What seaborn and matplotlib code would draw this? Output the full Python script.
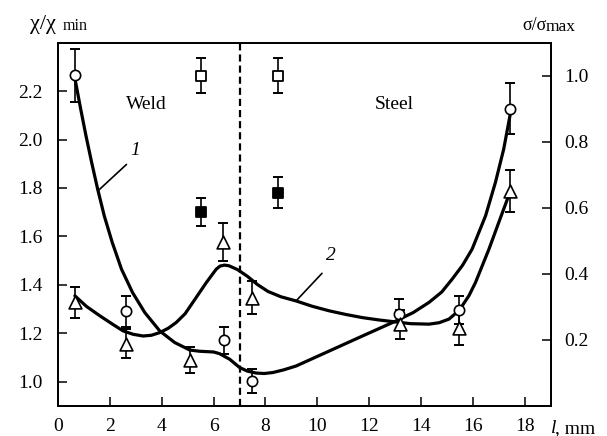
import matplotlib
matplotlib.use('Agg')
import matplotlib.pyplot as plt
import seaborn as sns

# ---------------- data ----------------
# open circles (left axis, chi/chi_min)
circ_x = [0.65, 2.64, 6.40, 7.50, 13.15, 15.45, 17.45]
circ_y = [2.265, 1.290, 1.170, 1.002, 1.278, 1.295, 2.127]
circ_err = [0.11, 0.065, 0.055, 0.05, 0.065, 0.058, 0.105]

# open triangles (left axis)
tri_x = [0.65, 2.64, 5.10, 6.38, 7.50, 13.20, 15.45, 17.45]
tri_y = [1.327, 1.157, 1.089, 1.577, 1.347, 1.237, 1.222, 1.789]
tri_err = [0.065, 0.06, 0.055, 0.08, 0.07, 0.06, 0.072, 0.087]

# squares (right axis, sigma/sigma_max)
sq_open_x = [5.5, 8.5]
sq_open_y = [1.0, 1.0]
sq_open_err = [0.053, 0.053]
sq_fill_x = [5.5, 8.5]
sq_fill_y = [0.587, 0.646]
sq_fill_err = [0.042, 0.046]

# traced smooth curve 1
c1_x = [0.654, 0.872, 1.077, 1.295, 1.526, 1.782, 2.090, 2.449, 2.872, 3.346,
        3.923, 4.50, 5.08, 5.46, 6.00, 6.23, 6.62, 7.00, 7.30, 7.64, 7.95, 8.28,
        8.70, 9.18, 9.80, 10.46, 11.74, 13.03, 13.70, 14.31, 14.80, 15.20, 15.60,
        15.97, 16.49, 16.87, 17.19, 17.45]
c1_y = [2.251, 2.127, 2.016, 1.906, 1.796, 1.685, 1.575, 1.464, 1.368, 1.285,
        1.209, 1.161, 1.130, 1.125, 1.122, 1.115, 1.092, 1.058, 1.043, 1.035,
        1.033, 1.037, 1.048, 1.064, 1.094, 1.126, 1.188, 1.250, 1.285, 1.327,
        1.370, 1.423, 1.480, 1.547, 1.685, 1.823, 1.961, 2.110]

# traced smooth curve 2
c2_x = [0.65, 1.10, 1.62, 2.10, 2.51, 2.90, 3.28, 3.60, 3.92, 4.25, 4.56, 4.90,
        5.20, 5.72, 6.10, 6.25, 6.42, 6.60, 6.93, 7.30, 7.70, 8.10, 8.60, 9.18,
        9.80, 10.46, 11.10, 11.74, 12.40, 13.03, 13.60, 14.31, 14.70, 15.08,
        15.35, 15.59, 15.85, 16.10, 16.62, 17.00, 17.38, 17.45]
c2_y = [1.354, 1.310, 1.271, 1.237, 1.209, 1.195, 1.188, 1.191, 1.202, 1.220,
        1.244, 1.280, 1.327, 1.409, 1.464, 1.477, 1.481, 1.478, 1.462, 1.435,
        1.400, 1.372, 1.350, 1.333, 1.311, 1.292, 1.277, 1.264, 1.254, 1.246,
        1.239, 1.237, 1.243, 1.258, 1.283, 1.313, 1.355, 1.409, 1.547, 1.658,
        1.768, 1.785]

x_ticks = [0, 2, 4, 6, 8, 10, 12, 14, 16, 18]
left_ticks = [1.0, 1.2, 1.4, 1.6, 1.8, 2.0, 2.2]
right_ticks = [0.2, 0.4, 0.6, 0.8, 1.0]

# ---------------- style ----------------
sns.set_style('ticks')
plt.rcParams['font.family'] = 'serif'
plt.rcParams['font.serif'] = ['Liberation Serif', 'DejaVu Serif']
plt.rcParams['axes.linewidth'] = 1.3
plt.rcParams['axes.edgecolor'] = 'black'

fig = plt.figure(figsize=(6.07, 4.36), dpi=100, facecolor='white')
ax = fig.add_axes([0.0956, 0.0695, 0.8116, 0.8325])
ax2 = ax.twinx()

K = 'black'
# curves
for cx, cy in ((c1_x, c1_y), (c2_x, c2_y)):
    sns.lineplot(x=cx, y=cy, ax=ax, sort=False, estimator=None, color=K, lw=2.3,
                 zorder=3, solid_joinstyle='round', solid_capstyle='round')

# error bars
eb = dict(fmt='none', ecolor=K, elinewidth=1.2, capsize=3.5, capthick=1.4, zorder=4)
ax.errorbar(circ_x, circ_y, yerr=circ_err, **eb)
ax.errorbar(tri_x, tri_y, yerr=tri_err, **eb)
ax2.errorbar(sq_open_x, sq_open_y, yerr=sq_open_err, **eb)
ax2.errorbar(sq_fill_x, sq_fill_y, yerr=sq_fill_err, **eb)

# markers
sns.scatterplot(x=circ_x, y=circ_y, ax=ax, marker='o', s=55, color='white',
                edgecolor=K, linewidth=1.2, zorder=6)
sns.scatterplot(x=tri_x, y=tri_y, ax=ax, marker='^', s=85, color='white',
                edgecolor=K, linewidth=1.2, zorder=6)
sns.scatterplot(x=sq_open_x, y=sq_open_y, ax=ax2, marker='s', s=62, color='white',
                edgecolor=K, linewidth=1.3, zorder=6)
sns.scatterplot(x=sq_fill_x, y=sq_fill_y, ax=ax2, marker='s', s=62, color=K,
                edgecolor=K, linewidth=1.3, zorder=6)

# boundary line
ax.axvline(7.0, color=K, lw=1.6, ls=(0, (3.2, 1.8)), zorder=2)

# limits and ticks
ax.set_xlim(0, 19)
ax.set_ylim(0.9, 2.4)
ax2.set_ylim(0.0, 1.1)
ax.set_xticks(x_ticks)
ax.set_xticklabels([str(t) for t in x_ticks])
ax.set_yticks(left_ticks)
ax.set_yticklabels([f'{t:.1f}' for t in left_ticks])
ax2.set_yticks(right_ticks)
ax2.set_yticklabels([f'{t:.1f}' for t in right_ticks])
ax.set_xlabel('')
ax.set_ylabel('')
ax2.set_ylabel('')

tp = dict(direction='in', length=6.5, width=1.1, colors=K, labelsize=14)
ax.tick_params(axis='x', top=False, pad=9, **tp)
ax.tick_params(axis='y', right=False, pad=11, **tp)
ax2.tick_params(axis='y', left=False, pad=10, **tp)
for a in (ax, ax2):
    for s in a.spines.values():
        s.set_visible(True)
        s.set_color(K)
        s.set_linewidth(1.3)

# annotations
ax.text(3.41, 2.143, 'Weld', fontsize=14, ha='center', va='center', color=K)
ax.text(12.96, 2.143, 'Steel', fontsize=14, ha='center', va='center', color=K)
ax.text(2.99, 1.954, '1', fontsize=14, style='italic', ha='center', va='center', color=K)
ax.text(10.53, 1.520, '2', fontsize=14, style='italic', ha='center', va='center', color=K)
ax.plot([1.55, 2.64], [1.789, 1.897], color=K, lw=1.2, zorder=3)
ax.plot([9.18, 10.18], [1.333, 1.447], color=K, lw=1.2, zorder=3)

# axis titles
fig.text(30 / 607, 1 - 29 / 436, 'χ/χ', fontsize=16, ha='left', va='baseline', color=K)
fig.text(63 / 607, 1 - 30 / 436, 'min', fontsize=11.5, ha='left', va='baseline', color=K)
fig.text(522 / 607, 1 - 30 / 436, 'σ/σ', fontsize=13, ha='left', va='baseline', color=K)
fig.text(546 / 607, 1 - 31 / 436, 'max', fontsize=12.5, ha='left', va='baseline', color=K)
fig.text(551 / 607, 1 - 433 / 436, 'l', fontsize=14, style='italic', ha='left', va='baseline', color=K)
fig.text(555 / 607, 1 - 433 / 436, ', mm', fontsize=14, ha='left', va='baseline', color=K)

fig.savefig('out.png', dpi=100, facecolor='white')
